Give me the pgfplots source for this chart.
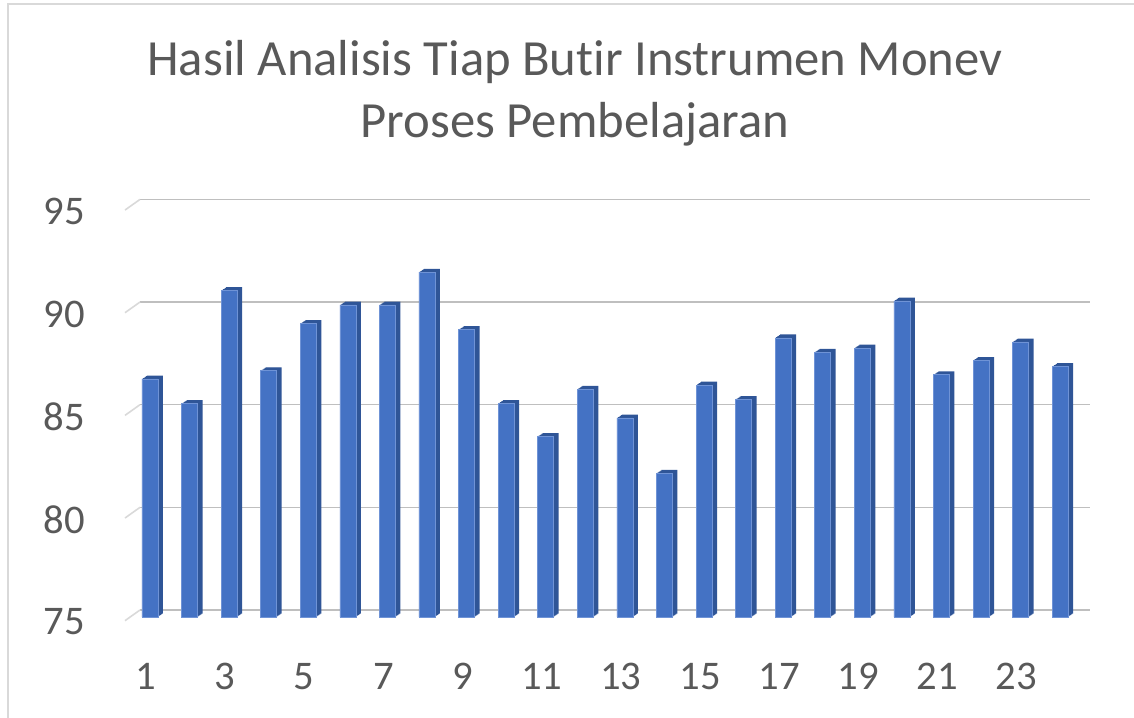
\documentclass[border=0pt]{standalone}
\usepackage{pgfplots}
\pgfplotsset{compat=1.18}
\usepackage{pgfplotstable}
\usepackage{fontspec}
\setmainfont{Carlito}[Ligatures=NoCommon]
\definecolor{txt}{HTML}{595959}
\definecolor{grid}{HTML}{D9D9D9}
\definecolor{front}{HTML}{4472C4}
\definecolor{side}{HTML}{2F5597}
\definecolor{edge}{HTML}{6F93D6}
\pgfplotstableread{
x y
1 86.6
2 85.4
3 90.9
4 87.0
5 89.3
6 90.2
7 90.2
8 91.8
9 89.0
10 85.4
11 83.8
12 86.1
13 84.7
14 82.0
15 86.3
16 85.6
17 88.6
18 87.9
19 88.1
20 90.4
21 86.8
22 87.5
23 88.4
24 87.2
}\datatable
\begin{document}
\begin{tikzpicture}
\useasboundingbox (0,0) rectangle (850.5pt,537.75pt);
\draw[grid, line width=1pt] (6pt,-5pt) -- (6pt,534.75pt) -- (860pt,534.75pt);
% back wall: gridlines and value axis
\begin{axis}[
  at={(105pt,80.25pt)}, anchor=south west,
  scale only axis, width=712.3pt, height=307.95pt,
  xmin=0.5, xmax=24.5, ymin=75, ymax=95,
  ytick={75,80,...,95}, xtick=\empty,
  ymajorgrids, major grid style={grid, line width=1.2pt},
  axis line style={draw=none}, tick style={draw=none},
  /pgf/number format/assume math mode=true,
  yticklabel style={font=\fontsize{30.5}{36}\selectfont, text=txt, anchor=east, inner sep=0pt, xshift=-41.25pt, yshift=-9pt},
  clip=false,
]
\pgfplotsinvokeforeach{75,80,85,90,95}{
  \draw[grid, line width=1.2pt] (axis cs:0.5,#1) -- ++(-11.25pt,-8pt);
}
\end{axis}
% bars
\begin{axis}[
  at={(97.65pt,75pt)}, anchor=south west,
  scale only axis, width=712.3pt, height=307.95pt,
  xmin=0.5, xmax=24.5, ymin=0, ymax=20,
  xtick={1,3,...,23}, ytick=\empty,
  axis line style={draw=none}, tick style={draw=none},
  /pgf/number format/assume math mode=true,
  xticklabel style={font=\fontsize{30.5}{36}\selectfont, text=txt, anchor=north, inner sep=0pt, yshift=-34.5pt, xshift=-3pt},
  clip=false,
  y filter/.expression={y-75},
]
\pgfplotsinvokeforeach{5,4,3,2,1}{
  \addplot[ybar, bar width=12pt, bar shift=0pt, fill=side, draw=none, xshift=0.75*#1pt, yshift=0.5*#1pt] table[x=x,y=y] {\datatable};
}
\addplot[ybar, bar width=12pt, bar shift=0pt, fill=front, draw=edge, line width=0.4pt] table[x=x,y=y] {\datatable};
\end{axis}
\node[anchor=north, inner sep=0pt, align=center, text=txt, font=\fontsize{38}{46.3}\selectfont] at (431.25pt,507.4pt) {Hasil Analisis Tiap Butir Instrumen Monev\\Proses Pembelajaran};
\end{tikzpicture}
\end{document}
